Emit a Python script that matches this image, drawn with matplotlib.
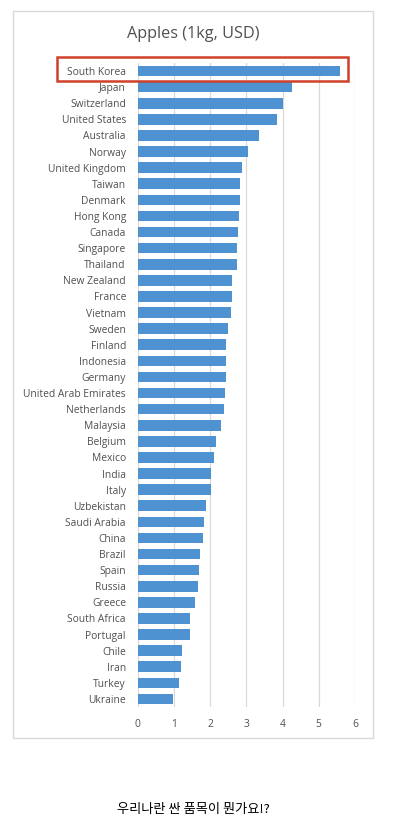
import matplotlib
matplotlib.use("Agg")
import matplotlib.pyplot as plt
from matplotlib.patches import Rectangle

countries = ["South Korea", "Japan", "Switzerland", "United States", "Australia", "Norway",
             "United Kingdom", "Taiwan", "Denmark", "Hong Kong", "Canada", "Singapore",
             "Thailand", "New Zealand", "France", "Vietnam", "Sweden", "Finland", "Indonesia",
             "Germany", "United Arab Emirates", "Netherlands", "Malaysia", "Belgium", "Mexico",
             "India", "Italy", "Uzbekistan", "Saudi Arabia", "China", "Brazil", "Spain",
             "Russia", "Greece", "South Africa", "Portugal", "Chile", "Iran", "Turkey", "Ukraine"]
prices = [5.59, 4.26, 4.01, 3.85, 3.35, 3.05, 2.88, 2.83, 2.83, 2.80, 2.77, 2.74,
          2.74, 2.60, 2.60, 2.57, 2.49, 2.44, 2.44, 2.44, 2.41, 2.38, 2.30, 2.16, 2.11,
          2.02, 2.02, 1.88, 1.83, 1.80, 1.72, 1.69, 1.66, 1.58, 1.44, 1.44, 1.22, 1.19, 1.14, 0.98]
xticks = [0, 1, 2, 3, 4, 5, 6]
title = "Apples (1kg, USD)"
caption = "우리나란 싼 품목이 뭔가요!?"

W, H = 399, 832
fig = plt.figure(figsize=(W / 100, H / 100), dpi=100)
fig.patch.set_facecolor("white")

def fx(px):
    return px / W

def fy(py):
    return 1 - py / H

ax = fig.add_axes([fx(137.7), fy(707), fx(355) - fx(137.7), fy(63) - fy(707)])
n = len(countries)
ypos = list(range(n))
ax.barh(ypos, prices, height=0.66, color="#4F92D2", zorder=3)
ax.set_ylim(n - 0.5, -0.5)
ax.set_xlim(0, 6)
ax.set_yticks(ypos)
ax.set_yticklabels(countries, fontsize=7.4, color="#505050", family="Open Sans")
ax.set_xticks(xticks)
ax.set_xticklabels([str(t) for t in xticks], fontsize=7.4, color="#505050", family="Open Sans")
ax.tick_params(axis="both", length=0)
ax.tick_params(axis="y", pad=8.5)
ax.tick_params(axis="x", pad=8.5)
ax.grid(axis="x", color="#D9D9D9", linewidth=0.9, zorder=0)
for s in ax.spines.values():
    s.set_visible(False)

# chart border
fig.add_artist(Rectangle((fx(13), fy(738)), fx(373) - fx(13), fy(11) - fy(738),
                         transform=fig.transFigure, fill=False, edgecolor="#D9D9D9", linewidth=1))
# title
fig.text(fx(193), fy(34), title, ha="center", va="center", fontsize=11.7,
         color="#505050", family="Open Sans")
# highlight box
fig.add_artist(Rectangle((fx(57), fy(81)), fx(348) - fx(57), fy(57) - fy(81),
                         transform=fig.transFigure, fill=False, edgecolor="#D0402B", linewidth=1.8))
# caption
fig.text(fx(193), fy(810), caption, ha="center", va="center", fontsize=9.5,
         color="black", family=["Noto Sans CJK KR", "DejaVu Sans"])

fig.savefig("out.png", dpi=100)
